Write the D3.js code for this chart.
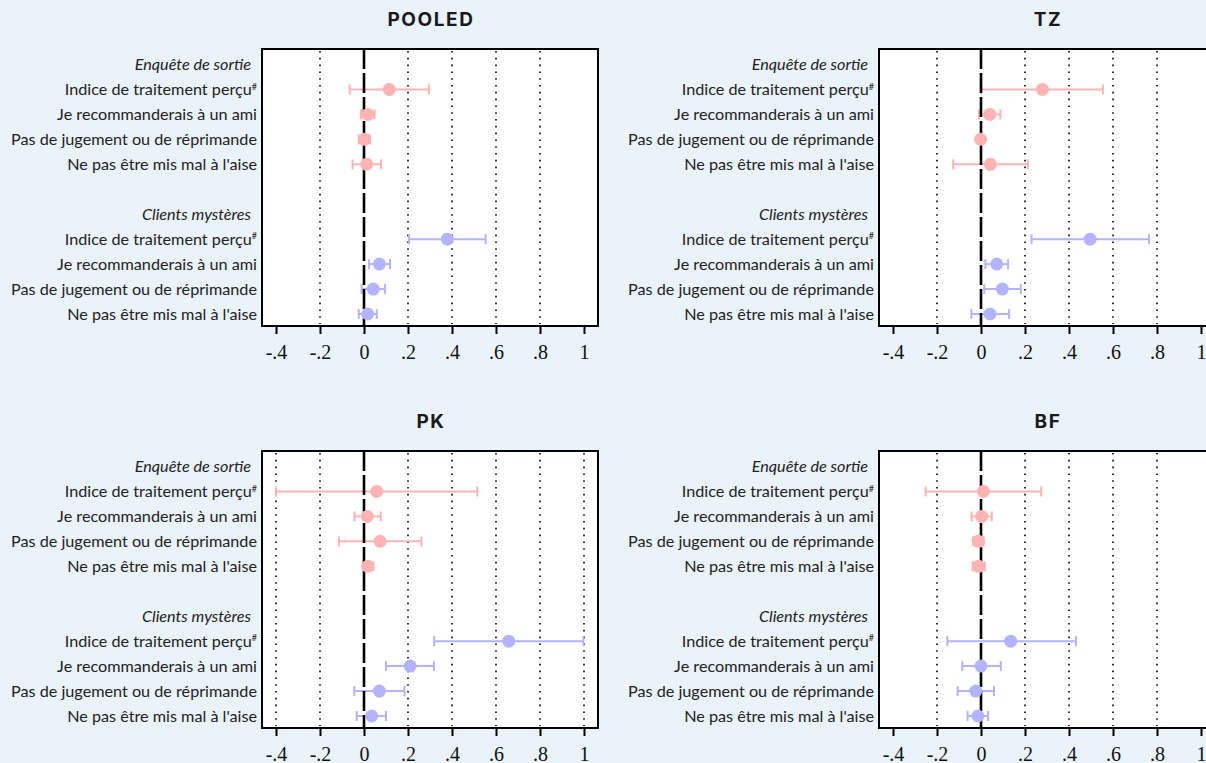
<!DOCTYPE html>
<html>
<head>
<meta charset="UTF-8">
<script src="https://cdnjs.cloudflare.com/ajax/libs/d3/7.8.5/d3.min.js"></script>
<style>
  body { margin: 0; background: #EAF2FA; }
  svg { display: block; }
  .lbl { font-family: Lato, "Open Sans", sans-serif; font-size: 16.2px; fill: #222; }
  .hdr { font-style: italic; }
  .title { font-family: Inter, "Open Sans", sans-serif; font-size: 19px; font-weight: 700; fill: #1a1a1a; letter-spacing: 1.6px; }
  .axis text { font-family: "Liberation Serif", serif; font-size: 20px; fill: #111; }
</style>
</head>
<body>
<div id="chart"></div>
<script>
// row labels (top to bottom), null = blank spacer row
const rowLabels = [
  { text: 'Enquête de sortie', header: true },
  { text: 'Indice de traitement perçu', sup: '#' },
  { text: 'Je recommanderais à un ami' },
  { text: 'Pas de jugement ou de réprimande' },
  { text: "Ne pas être mis mal à l'aise" },
  null,
  { text: 'Clients mystères', header: true },
  { text: 'Indice de traitement perçu', sup: '#' },
  { text: 'Je recommanderais à un ami' },
  { text: 'Pas de jugement ou de réprimande' },
  { text: "Ne pas être mis mal à l'aise" }
];
// rows that carry an estimate: first 4 = exit survey, last 4 = mystery clients
const dataRows = [1, 2, 3, 4, 7, 8, 9, 10];
const xTicks = [-0.4, -0.2, 0, 0.2, 0.4, 0.6, 0.8, 1];

const pooledEst = [0.115, 0.018, 0.002, 0.012, 0.379, 0.070, 0.042, 0.017];
const pooledLo  = [-0.065, -0.014, -0.024, -0.052, 0.205, 0.023, -0.011, -0.024];
const pooledHi  = [0.295, 0.048, 0.027, 0.077, 0.553, 0.118, 0.095, 0.058];

const tzEst = [0.279, 0.040, -0.002, 0.043, 0.496, 0.072, 0.097, 0.041];
const tzLo  = [0.002, -0.009, -0.002, -0.126, 0.230, 0.020, 0.015, -0.044];
const tzHi  = [0.554, 0.088, -0.002, 0.213, 0.764, 0.123, 0.181, 0.128];

const pkEst = [0.058, 0.015, 0.073, 0.017, 0.658, 0.210, 0.070, 0.035];
const pkLo  = [-0.400, -0.043, -0.114, -0.006, 0.319, 0.100, -0.044, -0.033];
const pkHi  = [0.515, 0.076, 0.261, 0.043, 0.997, 0.318, 0.184, 0.100];

const bfEst = [0.011, 0.003, -0.012, -0.011, 0.135, 0.000, -0.024, -0.014];
const bfLo  = [-0.252, -0.043, -0.036, -0.038, -0.153, -0.085, -0.106, -0.061];
const bfHi  = [0.274, 0.049, 0.012, 0.017, 0.432, 0.090, 0.059, 0.032];

const panels = [
  { name: 'POOLED', est: pooledEst, lo: pooledLo, hi: pooledHi, grid: [-0.2, 0.2, 0.4, 0.6, 0.8], dx: 0, dy: 0 },
  { name: 'TZ', est: tzEst, lo: tzLo, hi: tzHi, grid: [-0.2, 0.2, 0.4, 0.6, 0.8], dx: 617, dy: 0 },
  { name: 'PK', est: pkEst, lo: pkLo, hi: pkHi, grid: [-0.4, -0.2, 0.2, 0.4, 0.6, 0.8, 1], dx: 0, dy: 402 },
  { name: 'BF', est: bfEst, lo: bfLo, hi: bfHi, grid: [-0.2, 0.2, 0.4, 0.6, 0.8], dx: 617, dy: 402 }
];

const exitColor = '#FFB3B3';
const mysteryColor = '#B3B3FF';

const W = 1206, H = 763;
const frame = { left: 262, right: 598, top: 49, bottom: 326 };

const svg = d3.select('#chart').append('svg')
  .attr('width', W).attr('height', H);

svg.append('rect').attr('width', W).attr('height', H).attr('fill', '#EAF2FA');

const x = d3.scaleLinear().domain([-0.4, 1]).range([276, 584]);
const y = d3.scaleLinear().domain([0, 10]).range([64.5, 314]);

const fmt = d => d === 0 ? '0' : d === 1 ? '1' : (d < 0 ? '-' : '') + String(Math.abs(d)).replace(/^0/, '');

panels.forEach(p => {
  const g = svg.append('g').attr('transform', `translate(${p.dx},${p.dy})`);

  g.append('text').attr('class', 'title')
    .attr('x', (frame.left + frame.right) / 2 + 1).attr('y', 26)
    .attr('text-anchor', 'middle').text(p.name);

  g.append('rect')
    .attr('x', frame.left).attr('y', frame.top)
    .attr('width', frame.right - frame.left).attr('height', frame.bottom - frame.top)
    .attr('fill', '#fff');

  // row labels
  rowLabels.forEach((r, i) => {
    if (!r) return;
    const t = g.append('text')
      .attr('class', 'lbl' + (r.header ? ' hdr' : ''))
      .attr('x', r.header ? frame.left - 11 : frame.left - 5)
      .attr('y', y(i)).attr('dy', '0.35em')
      .attr('text-anchor', 'end')
      .text(r.text);
    if (r.sup) {
      t.append('tspan').attr('font-size', 9).attr('dy', '-0.6em').text(r.sup);
    }
  });

  // dotted grid
  g.selectAll('.grid').data(p.grid).enter().append('line')
    .attr('x1', d => x(d)).attr('x2', d => x(d))
    .attr('y1', frame.top + 2).attr('y2', frame.bottom - 2)
    .attr('stroke', '#000').attr('stroke-width', 1.6)
    .attr('stroke-dasharray', '1.6,5.2');

  const pts = p.est.map((e, i) => ({
    row: dataRows[i], est: e, lo: p.lo[i], hi: p.hi[i],
    color: i < 4 ? exitColor : mysteryColor
  }));

  // CI lines and caps
  g.selectAll('.ci').data(pts).enter().append('line')
    .attr('x1', d => x(d.lo)).attr('x2', d => x(d.hi))
    .attr('y1', d => y(d.row)).attr('y2', d => y(d.row))
    .attr('stroke', d => d.color).attr('stroke-width', 2);
  ['lo', 'hi'].forEach(k => {
    g.selectAll('.cap' + k).data(pts).enter().append('line')
      .attr('x1', d => x(d[k])).attr('x2', d => x(d[k]))
      .attr('y1', d => y(d.row) - 5).attr('y2', d => y(d.row) + 5)
      .attr('stroke', d => d.color).attr('stroke-width', 2);
  });

  // zero reference line
  g.append('line')
    .attr('x1', x(0)).attr('x2', x(0))
    .attr('y1', frame.top).attr('y2', frame.bottom)
    .attr('stroke', '#000').attr('stroke-width', 2.6)
    .attr('stroke-dasharray', '20,4');

  g.selectAll('.pt').data(pts).enter().append('circle')
    .attr('cx', d => x(d.est)).attr('cy', d => y(d.row))
    .attr('r', 6.5).attr('fill', d => d.color);

  g.append('rect')
    .attr('x', frame.left).attr('y', frame.top)
    .attr('width', frame.right - frame.left).attr('height', frame.bottom - frame.top)
    .attr('fill', 'none').attr('stroke', '#000').attr('stroke-width', 2);

  const ax = g.append('g').attr('class', 'axis')
    .attr('transform', `translate(0,${frame.bottom})`)
    .call(d3.axisBottom(x).tickValues(xTicks).tickFormat(fmt).tickSize(8).tickPadding(11));
  ax.select('.domain').remove();
  ax.selectAll('.tick line').attr('stroke', '#000').attr('stroke-width', 2);
});
</script>
</body>
</html>
